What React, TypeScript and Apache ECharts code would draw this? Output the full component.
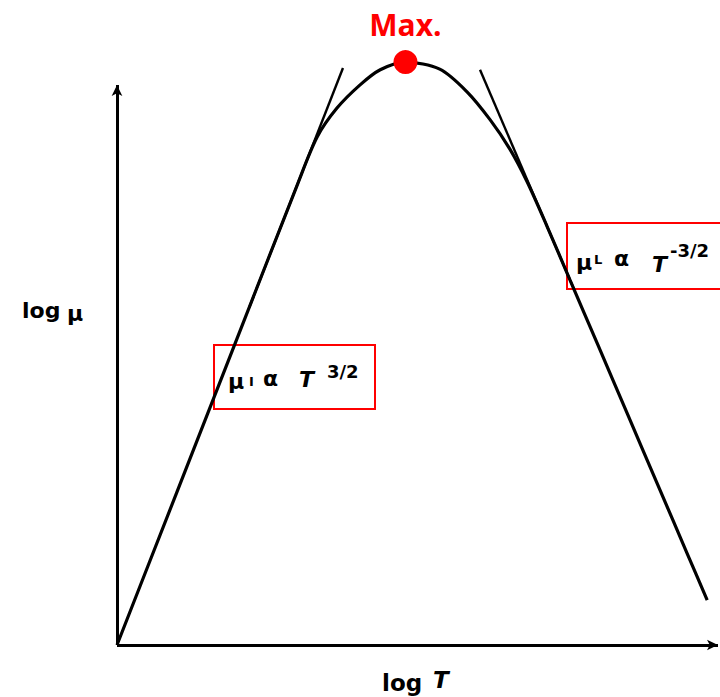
import React, { useEffect, useRef } from "react";
import * as echarts from "echarts";

// log T (x) and log μ (y) in arbitrary units, 0–100 on both axes
const curveLogT = [0, 10, 20, 30, 33.3, 36.6, 40.4, 43.8, 48.0, 53.7, 58.2, 62.1, 65.4, 68.2, 71.5, 75.4, 80, 85, 90, 95, 98.2];
const curveLogMu = [0, 26, 52, 78, 86.1, 91.0, 94.9, 97.5, 98.8, 97.6, 93.8, 89.0, 84.0, 78.6, 71.1, 61.8, 50.9, 39.0, 27.1, 15.2, 7.6];

// Asymptotes: impurity scattering (T^3/2) and lattice scattering (T^-3/2)
const impurityTangent = [[22.0, 57.2], [37.6, 97.8]];
const latticeTangent = [[60.4, 97.5], [76.0, 60.4]];

const axisTopY = 94.9;
const axisRightX = 100;

const curve = curveLogT.map((x, i) => [x, curveLogMu[i]]);
const peak = curve.reduce((a, b) => (b[1] > a[1] ? b : a));

const texts = {
  log: "log",
  mu: "μ",
  T: "T",
  maxLabel: "Max.",
  prop: "α",
  impurityExp: "3/2",
  latticeExp: "-3/2",
  subI: "I",
  subL: "L",
};

export default function App() {
  const ref = useRef<HTMLDivElement>(null);

  useEffect(() => {
    if (!ref.current) return;
    const chart = echarts.init(ref.current, null, { renderer: "svg" });
    const font = "DejaVu Sans";
    const txt = (text: string, x: number, y: number, size: number, italic = false) => ({
      type: "text",
      x,
      y,
      style: {
        text,
        fill: "#000",
        font: `${italic ? "italic " : ""}bold ${size}px "${font}"`,
        textAlign: "left",
        textVerticalAlign: "bottom",
      },
    });

    chart.setOption({
      animation: false,
      backgroundColor: "#fff",
      grid: { left: 117, right: 2, top: 55, bottom: 52 },
      xAxis: {
        type: "value",
        min: 0,
        max: 100,
        axisLine: { show: false },
        axisTick: { show: false },
        axisLabel: { show: false },
        splitLine: { show: false },
      },
      yAxis: {
        type: "value",
        min: 0,
        max: 100,
        axisLine: { show: false },
        axisTick: { show: false },
        axisLabel: { show: false },
        splitLine: { show: false },
      },
      series: [
        {
          type: "line",
          data: curve,
          smooth: 0.3,
          showSymbol: false,
          lineStyle: { color: "#000", width: 3.2 },
          markLine: {
            silent: true,
            symbol: ["none", "arrow"],
            symbolSize: [8, 11],
            label: { show: false },
            lineStyle: { color: "#000", width: 3, type: "solid" },
            data: [
              [{ coord: [0, 0] }, { coord: [0, axisTopY] }],
              [{ coord: [0, 0] }, { coord: [axisRightX, 0] }],
            ],
          },
        },
        {
          type: "line",
          data: impurityTangent,
          showSymbol: false,
          lineStyle: { color: "#000", width: 2.4 },
        },
        {
          type: "line",
          data: latticeTangent,
          showSymbol: false,
          lineStyle: { color: "#000", width: 2.4 },
        },
        {
          type: "scatter",
          data: [peak],
          symbolSize: 24,
          itemStyle: { color: "#ff0000", opacity: 1 },
          z: 5,
          label: {
            show: true,
            position: "top",
            distance: 11,
            formatter: texts.maxLabel,
            color: "#ff0000",
            fontSize: 30,
            fontWeight: "bold",
            fontFamily: "Open Sans",
          },
        },
      ],
      graphic: [
        // axis titles
        txt(texts.log, 22, 321, 22),
        txt(texts.mu, 67, 324, 22),
        txt(texts.log, 382, 694, 23),
        txt(texts.T, 433, 691, 23, true),
        // μ_I ∝ T^{3/2}
        {
          type: "rect",
          shape: { x: 214, y: 345, width: 161, height: 64 },
          style: { fill: "none", stroke: "#ff0000", lineWidth: 2 },
        },
        txt(texts.mu, 228, 392, 22),
        txt(texts.subI, 249, 388, 13),
        txt(texts.prop, 263, 389, 22),
        txt(texts.T, 299, 390, 22, true),
        txt(texts.impurityExp, 327, 380, 18),
        // μ_L ∝ T^{-3/2}
        {
          type: "rect",
          shape: { x: 567, y: 223, width: 170, height: 66 },
          style: { fill: "none", stroke: "#ff0000", lineWidth: 2 },
        },
        txt(texts.mu, 576, 273, 22),
        txt(texts.subL, 594, 266, 13),
        txt(texts.prop, 614, 269, 22),
        txt(texts.T, 652, 275, 22, true),
        txt(texts.latticeExp, 670, 259, 18),
      ],
    });
    return () => chart.dispose();
  }, []);

  return <div ref={ref} style={{ width: 720, height: 697, position: "absolute", left: 0, top: 0 }} />;
}
